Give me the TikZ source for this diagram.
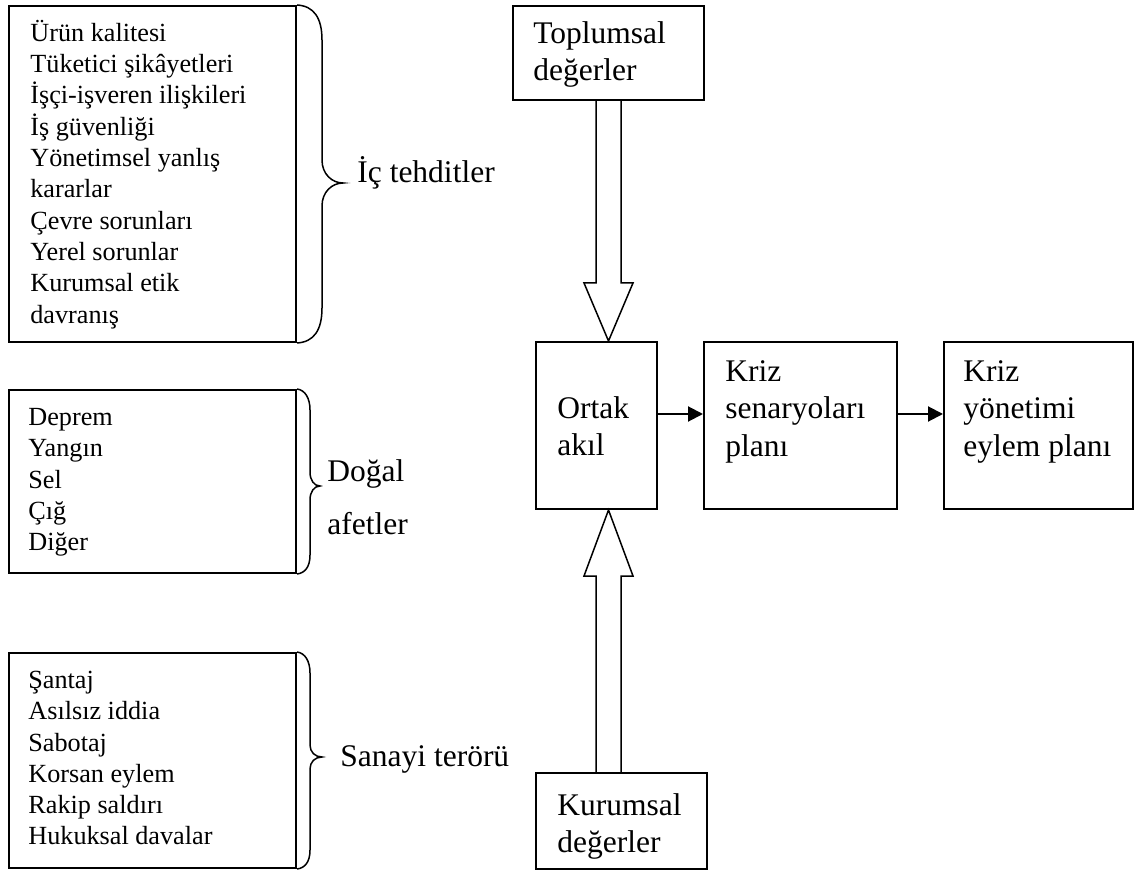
\documentclass[tikz,border=0pt]{standalone}
\usepackage{fontspec}
\setmainfont{Liberation Serif}
\usetikzlibrary{arrows.meta,calc,fit}

% invisible strut that fixes the height of the first line of a text block
\newcommand\toprow{\rule{0pt}{1em}}

\begin{document}
\begin{tikzpicture}[x=0.5pt,y=-0.5pt,
  frame/.style={draw,line width=1pt,inner sep=0pt},
  listtext/.style={anchor=north west,inner sep=0pt,align=left,
    font=\fontsize{13.1}{15.65}\selectfont},
  boxtext/.style={anchor=north west,inner sep=0pt,align=left,
    font=\fontsize{15.75}{18.7}\selectfont},
  bracepath/.style={draw,line width=0.75pt},
  hollow/.style={draw,line width=0.75pt,line join=miter},
  flow/.style={draw,line width=1pt,-{Triangle[length=7.5pt,width=7.5pt]}}]
\useasboundingbox (0,0) rectangle (1135,871);

% ---- left column: threat lists ----
\node[frame,fit={(9,6) (296,342)}] (inner) {};
\node[listtext] (innerlist) at (30,14.8) {\toprow Ürün kalitesi\\Tüketici şikâyetleri\\İşçi-işveren ilişkileri\\İş güvenliği\\Yönetimsel yanlış\\kararlar\\Çevre sorunları\\Yerel sorunlar\\Kurumsal etik\\davranış};

\node[frame,fit={(9,390) (296,573)}] (natural) {};
\node[listtext] (naturallist) at (28,398.8) {\toprow Deprem\\Yangın\\Sel\\Çığ\\Diğer};

\node[frame,fit={(9,653) (296,868)}] (terror) {};
\node[listtext] (terrorlist) at (28,661.8) {\toprow Şantaj\\Asılsız iddia\\Sabotaj\\Korsan eylem\\Rakip saldırı\\Hukuksal davalar};

% ---- braces ----
\draw[bracepath] (inner.north east) .. controls (314,6) and (322,18) .. (322,40)
  -- (322,160) .. controls (322,174) and (332,183) .. (343,183)
  .. controls (332,183) and (322,192) .. (322,206)
  -- (322,308) .. controls (322,330) and (314,342) .. (inner.south east);
\draw[bracepath] (natural.north east) .. controls (305,390) and (310,398) .. (310,410)
  -- (310,472) .. controls (310,480) and (314,486) .. (320,486)
  .. controls (314,486) and (310,492) .. (310,500)
  -- (310,555) .. controls (310,567) and (305,573) .. (natural.south east);
\draw[bracepath] (terror.north east) .. controls (305,653) and (310,661) .. (310,673)
  -- (310,745) .. controls (310,752) and (315,757) .. (322,757)
  .. controls (315,757) and (310,762) .. (310,769)
  -- (310,850) .. controls (310,862) and (305,868) .. (terror.south east);

% ---- group labels ----
\node[boxtext] (innerlabel) at (357,150.5) {\toprow İç tehditler};
\node[boxtext,font=\fontsize{15.75}{26.5}\selectfont] (naturallabel) at (327,449.5) {\toprow Doğal\\afetler};
\node[boxtext] (terrorlabel) at (340,734.5) {\toprow Sanayi terörü};

% ---- right part: values, common mind and plans ----
\node[frame,fit={(513,6) (704,100)}] (social) {};
\node[boxtext] (socialtext) at (533,11.5) {\toprow Toplumsal\\değerler};

\node[frame,fit={(536,342) (657,509)}] (mind) {};
\node[boxtext] (mindtext) at (557,386.5) {\toprow Ortak\\akıl};

\node[frame,fit={(704,342) (897,509)}] (scenario) {};
\node[boxtext] (scenariotext) at (725,349.5) {\toprow Kriz\\senaryoları\\planı};

\node[frame,fit={(944,342) (1133,509)}] (action) {};
\node[boxtext] (actiontext) at (963,349.5) {\toprow Kriz\\yönetimi\\eylem planı};

\node[frame,fit={(536,773) (707,869)}] (corporate) {};
\node[boxtext] (corporatetext) at (557,783.5) {\toprow Kurumsal\\değerler};

% ---- hollow block arrows into the common mind ----
\coordinate (ax) at (608.5,0);
\coordinate (downtip) at (ax |- mind.north);
\draw[hollow] ($(ax |- social.south)+(-12.5,0)$) -- ($(downtip)+(-12.5,-58)$)
  -- ($(downtip)+(-24.5,-58)$) -- (downtip) -- ($(downtip)+(24.5,-58)$)
  -- ($(downtip)+(12.5,-58)$) -- ($(ax |- social.south)+(12.5,0)$);
\coordinate (uptip) at (ax |- mind.south);
\draw[hollow] ($(ax |- corporate.north)+(-12.5,0)$) -- ($(uptip)+(-12.5,66)$)
  -- ($(uptip)+(-24.5,66)$) -- (uptip) -- ($(uptip)+(24.5,66)$)
  -- ($(uptip)+(12.5,66)$) -- ($(ax |- corporate.north)+(12.5,0)$);

% ---- flow arrows ----
\draw[flow] ($(mind.east)+(0,-11.5)$) -- ($(scenario.west)+(0,-11.5)$);
\draw[flow] ($(scenario.east)+(0,-11.5)$) -- ($(action.west)+(0,-11.5)$);
\end{tikzpicture}
\end{document}
